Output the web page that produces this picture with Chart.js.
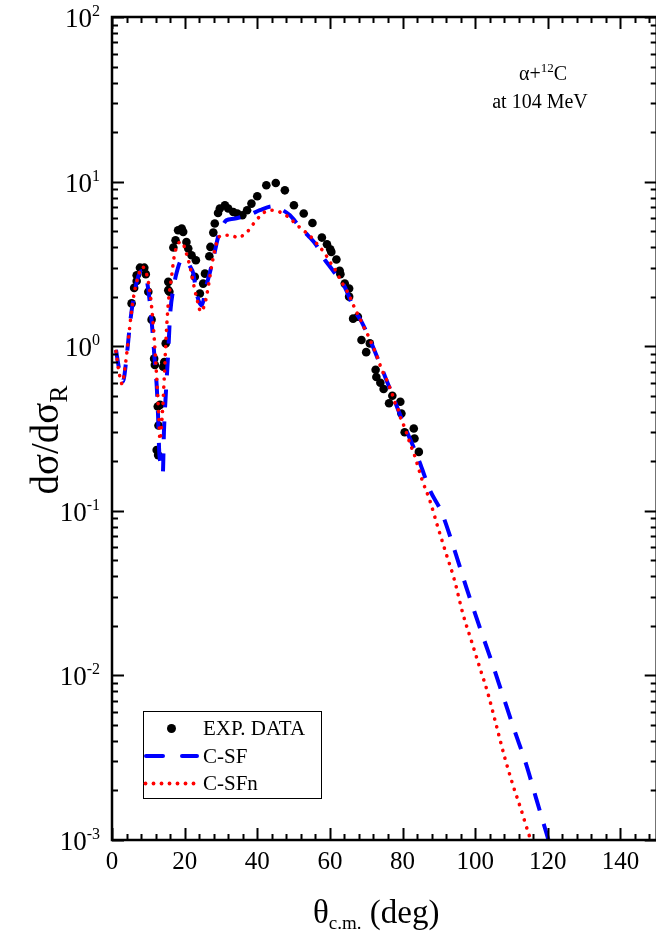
<!DOCTYPE html>
<html>
<head>
<meta charset="utf-8">
<script src="https://cdn.jsdelivr.net/npm/chart.js@4.4.0/dist/chart.umd.min.js"></script>
<style>
  html, body { margin: 0; padding: 0; background: #fff; overflow: hidden; }
  #wrap { width: 656px; height: 945px; overflow: hidden; }
</style>
</head>
<body>
<div id="wrap"><canvas id="myChart" width="661" height="945"></canvas></div>
<script>
// experimental points (theta c.m., dsigma/dsigma_R)
const expTheta = [5.4, 6.1, 6.8, 6.8, 7.7, 8.9, 9.3, 10.0, 10.9, 11.6, 11.8, 12.3, 12.6, 12.7, 12.8, 13.2,
  14.1, 14.4, 14.8, 15.5, 15.5, 15.8, 16.9, 17.5, 18.2, 19.2, 19.6, 20.5, 21.0, 21.9, 22.8, 23.1,
  24.2, 25.1, 25.6, 26.8, 27.1, 27.9, 28.3, 29.2, 29.7, 31.1, 32.0, 33.4, 34.5, 35.9, 37.2, 38.4,
  40.0, 42.5, 45.1, 47.6, 50.1, 52.8, 55.2, 57.8, 59.2, 60.1, 60.4, 61.8, 62.7, 62.9, 64.1, 65.3,
  65.3, 66.4, 67.7, 68.7, 70.0, 71.0, 72.6, 72.8, 73.9, 74.8, 76.3, 77.2, 79.4, 79.7, 80.6, 83.1,
  83.3, 84.5]
const expValue = [1.82, 2.26, 2.49, 2.70, 3.0, 3.0, 2.74, 2.14, 1.45, 0.84, 0.77, 0.234, 0.43, 0.218, 0.33, 0.44,
  0.75, 0.80, 1.04, 2.19, 2.46, 2.14, 3.98, 4.4, 5.06, 5.18, 4.95, 4.3, 3.92, 3.57, 2.64, 3.33,
  2.09, 2.40, 2.76, 3.52, 4.01, 4.9, 5.56, 6.45, 6.86, 7.18, 6.86, 6.54, 6.4, 6.24, 6.7, 7.35,
  8.14, 9.5, 9.8, 8.85, 7.18, 6.4, 5.6, 4.57, 4.16, 3.88, 3.74, 3.36, 2.87, 2.74, 2.40, 2.24,
  2.0, 1.47, 1.51, 1.09, 0.92, 1.04, 0.72, 0.65, 0.60, 0.55, 0.45, 0.50, 0.46, 0.39, 0.30, 0.316,
  0.275, 0.228]

// C-SF (blue dashed)
const csfTheta = [1.1, 2, 3, 4, 5, 6, 7, 8, 9, 10, 11, 12, 12.3, 12.7, 13.0, 13.5, 14.0, 14.3, 14.9, 15.5,
  16, 17, 17.9, 19, 20.5, 21.5, 22.4, 23.3, 24.7, 26, 27, 28.3, 29.2, 30.3, 31.5, 33.5, 35.7, 38, 40.7,
  44.4, 46.5, 49, 51.7, 54, 56.3, 58.1, 60, 61.8, 64.1, 66.8, 68.7, 71, 73, 75, 77, 79, 81, 83, 85,
  87.5, 90.7, 94.3, 97.5, 101.2, 104.4, 107.6, 110.8, 114.1, 116.8, 120.2]
const csfValue = [0.95, 0.72, 0.61, 0.85, 1.4, 2.0, 2.55, 2.85, 2.8, 2.2, 1.35, 0.7, 0.58, 0.37, 0.23, 0.19, 0.17, 0.3, 0.55, 0.93,
  1.55, 2.3, 2.85, 3.3, 3.33, 3.05, 2.76, 2.09, 1.77, 2.34, 2.83, 3.74, 4.6, 5.3, 5.82, 5.95, 6.1, 6.3, 6.7,
  7.08, 6.8, 6.24, 5.3, 4.7, 4.1, 3.48, 3.05, 2.7, 2.29, 1.65, 1.41, 1.1, 0.86, 0.67, 0.52, 0.4, 0.31, 0.245, 0.19,
  0.134, 0.0986, 0.058, 0.0346, 0.0198, 0.0124, 0.0076, 0.00466, 0.00286, 0.00179, 0.001]

// C-SFn (red dotted)
const csfnTheta = [1.1, 2, 2.8, 3.5, 4.3, 5.2, 6.1, 7.2, 8.3, 9.5, 10.5, 11.4, 12.3, 12.9, 13.2, 13.8, 14.4, 14.9,
  15.5, 16.4, 17.1, 18.2, 19.2, 20.5, 21.7, 22.8, 23.7, 24.4, 25.6, 26.5, 27.4, 28.3, 29.2, 30.6, 32.9,
  34.7, 36.1, 37.8, 39.1, 40.7, 42.1, 43.9, 46.2, 48.5, 50.3, 52.6, 54.1, 55.6, 57.0, 58.3, 59.5, 60.6,
  61.8, 62.7, 63.6, 64.7, 65.5, 66.4, 67.3, 68.2, 69.1, 70.0, 71.0, 71.7, 72.6, 73.9, 74.8, 75.7, 76.5,
  77.2, 77.8, 78.7, 79.2, 79.9, 80.8, 81.5, 82.1, 82.9, 83.5, 84.1, 85.4, 87.5, 89.7, 92.0, 94.3, 96.6,
  98.9, 101.2, 103.5, 105.8, 108.1, 110.4, 112.7, 115.0, 115.4]
const csfnValue = [0.93, 0.68, 0.59, 0.72, 1.0, 1.51, 2.09, 2.64, 3.03, 2.76, 2.09, 1.31, 0.65, 0.37, 0.27, 0.37, 0.65, 1.14,
  1.82, 2.64, 3.48, 4.2, 4.3, 3.65, 2.89, 2.19, 1.82, 1.62, 1.82, 2.29, 3.03, 3.83, 4.51, 4.72, 4.72,
  4.55, 4.72, 5.11, 5.6, 6.15, 6.54, 6.7, 6.54, 6.1, 5.62, 5.06, 4.79, 4.4, 4.05, 3.74, 3.41, 3.1,
  2.83, 2.58, 2.38, 2.17, 2.0, 1.79, 1.62, 1.49, 1.34, 1.22, 1.11, 1.01, 0.91, 0.76, 0.68, 0.62, 0.56,
  0.51, 0.46, 0.42, 0.38, 0.35, 0.31, 0.28, 0.254, 0.231, 0.211, 0.191, 0.154, 0.116, 0.080, 0.055, 0.038, 0.0238,
  0.0164, 0.0113, 0.0078, 0.005, 0.0032, 0.00216, 0.00152, 0.00105, 0.001]

const xTickLabels = [0, 20, 40, 60, 80, 100, 120, 140]
const yTickExponents = [-3, -2, -1, 0, 1, 2]
const legendNames = ['EXP. DATA', 'C-SF', 'C-SFn']

const serif = '"Liberation Serif", "DejaVu Serif", serif'

function pairs(xs, ys) {
  var out = []
  for (var i = 0; i < xs.length; i++) {
    out.push({ x: xs[i], y: ys[i] })
  }
  return out
}

// text with a raised or lowered small part
function drawScript(ctx, x, y, base, small, bigSize, smallSize, shift, align) {
  ctx.font = bigSize + 'px ' + serif
  var w1 = ctx.measureText(base).width
  ctx.font = smallSize + 'px ' + serif
  var w2 = ctx.measureText(small).width
  var start = x
  if (align === 'right') start = x - w1 - w2
  else if (align === 'center') start = x - (w1 + w2) / 2
  ctx.textAlign = 'left'
  ctx.font = bigSize + 'px ' + serif
  ctx.fillText(base, start, y)
  ctx.font = smallSize + 'px ' + serif
  ctx.fillText(small, start + w1, y + shift)
  return start + w1 + w2
}

const framePlugin = {
  id: 'frame',
  afterDraw(chart) {
    var ctx = chart.ctx
    var a = chart.chartArea
    var xs = chart.scales.x
    var ys = chart.scales.y
    ctx.save()
    ctx.strokeStyle = '#000'
    ctx.fillStyle = '#000'

    // frame
    ctx.lineWidth = 2.5
    ctx.strokeRect(a.left, a.top, a.right - a.left, a.bottom - a.top)

    // x ticks, inward on bottom and top
    ctx.lineWidth = 2
    for (var v = 0; v < 150; v += 4) {
      var px = Math.round(xs.getPixelForValue(v)) + 0.5
      var len = (v % 20 === 0) ? 12 : 6
      ctx.beginPath()
      ctx.moveTo(px, a.bottom)
      ctx.lineTo(px, a.bottom - len)
      ctx.moveTo(px, a.top)
      ctx.lineTo(px, a.top + len)
      ctx.stroke()
    }

    // y ticks, inward on left and right
    for (var e = -3; e <= 2; e++) {
      for (var k = 1; k <= 9; k++) {
        if (e === 2 && k > 1) break
        var py = Math.round(ys.getPixelForValue(k * Math.pow(10, e))) + 0.5
        var l = (k === 1) ? 12 : 6
        ctx.beginPath()
        ctx.moveTo(a.left, py)
        ctx.lineTo(a.left + l, py)
        ctx.moveTo(a.right, py)
        ctx.lineTo(a.right - l, py)
        ctx.stroke()
      }
    }

    // x tick labels
    ctx.font = '25px ' + serif
    ctx.textAlign = 'center'
    ctx.textBaseline = 'middle'
    xTickLabels.forEach(function (t) {
      ctx.fillText(String(t), xs.getPixelForValue(t), a.bottom + 22)
    })

    // y tick labels 10^n
    ctx.textBaseline = 'alphabetic'
    yTickExponents.forEach(function (n) {
      var py = ys.getPixelForValue(Math.pow(10, n))
      drawScript(ctx, 100, py + 10, '10', String(n), 27, 16, -11, 'right')
    })

    // axis titles
    ctx.textBaseline = 'alphabetic'
    var tx = 313
    tx = drawScript(ctx, tx, 923, '\u03b8', 'c.m.', 33, 19, 6, 'left')
    ctx.font = '33px ' + serif
    ctx.fillText(' (deg)', tx, 923)

    ctx.save()
    ctx.translate(58, 440)
    ctx.rotate(-Math.PI / 2)
    drawScript(ctx, 0, 0, 'd\u03c3/d\u03c3', 'R', 39, 26, 9, 'center')
    ctx.restore()

    // annotation
    ctx.textBaseline = 'alphabetic'
    var ax = 543
    ctx.font = '20px ' + serif
    var wa = ctx.measureText('\u03b1+').width
    var wc = ctx.measureText('C').width
    ctx.font = '13px ' + serif
    var w12 = ctx.measureText('12').width
    var sx = ax - (wa + wc + w12) / 2
    ctx.textAlign = 'left'
    ctx.font = '20px ' + serif
    ctx.fillText('\u03b1+', sx, 80)
    ctx.font = '13px ' + serif
    ctx.fillText('12', sx + wa, 72)
    ctx.font = '20px ' + serif
    ctx.fillText('C', sx + wa + w12, 80)
    ctx.textAlign = 'center'
    ctx.fillText('at 104 MeV', 540, 108)

    // legend
    ctx.lineWidth = 1
    ctx.strokeRect(143.5, 711.5, 178, 87)
    ctx.font = '21px ' + serif
    ctx.textAlign = 'left'
    ctx.textBaseline = 'middle'
    ctx.beginPath()
    ctx.arc(171.5, 728.5, 4.5, 0, Math.PI * 2)
    ctx.fill()
    ctx.fillText(legendNames[0], 203, 729)

    ctx.strokeStyle = '#0000ff'
    ctx.lineWidth = 4
    ctx.lineCap = 'round'
    ctx.beginPath()
    ctx.moveTo(146, 756)
    ctx.lineTo(163, 756)
    ctx.moveTo(182, 756)
    ctx.lineTo(197, 756)
    ctx.stroke()
    ctx.fillText(legendNames[1], 203, 757)

    ctx.fillStyle = '#ff0000'
    for (var d = 145.5; d < 195; d += 8) {
      ctx.beginPath()
      ctx.arc(d, 783.5, 1.9, 0, Math.PI * 2)
      ctx.fill()
    }
    ctx.fillStyle = '#000'
    ctx.fillText(legendNames[2], 203, 784)

    ctx.restore()
  }
}

const ctx = document.getElementById('myChart')
const chart = new Chart(ctx, {
  type: 'line',
  data: {
    datasets: [
      {
        label: legendNames[0],
        data: pairs(expTheta, expValue),
        showLine: false,
        pointRadius: 4.3,
        pointBackgroundColor: '#000',
        pointBorderColor: '#000',
        pointBorderWidth: 0,
        order: 3
      },
      {
        label: legendNames[1],
        data: pairs(csfTheta, csfValue),
        borderColor: '#0000ff',
        borderWidth: 4,
        borderDash: [18, 14],
        pointRadius: 0,
        cubicInterpolationMode: 'monotone',
        order: 2
      },
      {
        label: legendNames[2],
        data: pairs(csfnTheta, csfnValue),
        borderColor: '#ff0000',
        borderWidth: 3.6,
        borderDash: [0.1, 8],
        borderCapStyle: 'round',
        pointRadius: 0,
        cubicInterpolationMode: 'monotone',
        order: 1
      }
    ]
  },
  options: {
    responsive: false,
    animation: false,
    layout: { padding: { left: 112, right: 0, top: 17, bottom: 105 } },
    plugins: { legend: { display: false }, tooltip: { enabled: false } },
    scales: {
      x: { type: 'linear', min: 0, max: 150, display: false },
      y: { type: 'logarithmic', min: 0.001, max: 100, display: false }
    }
  },
  plugins: [framePlugin]
})
</script>
</body>
</html>
